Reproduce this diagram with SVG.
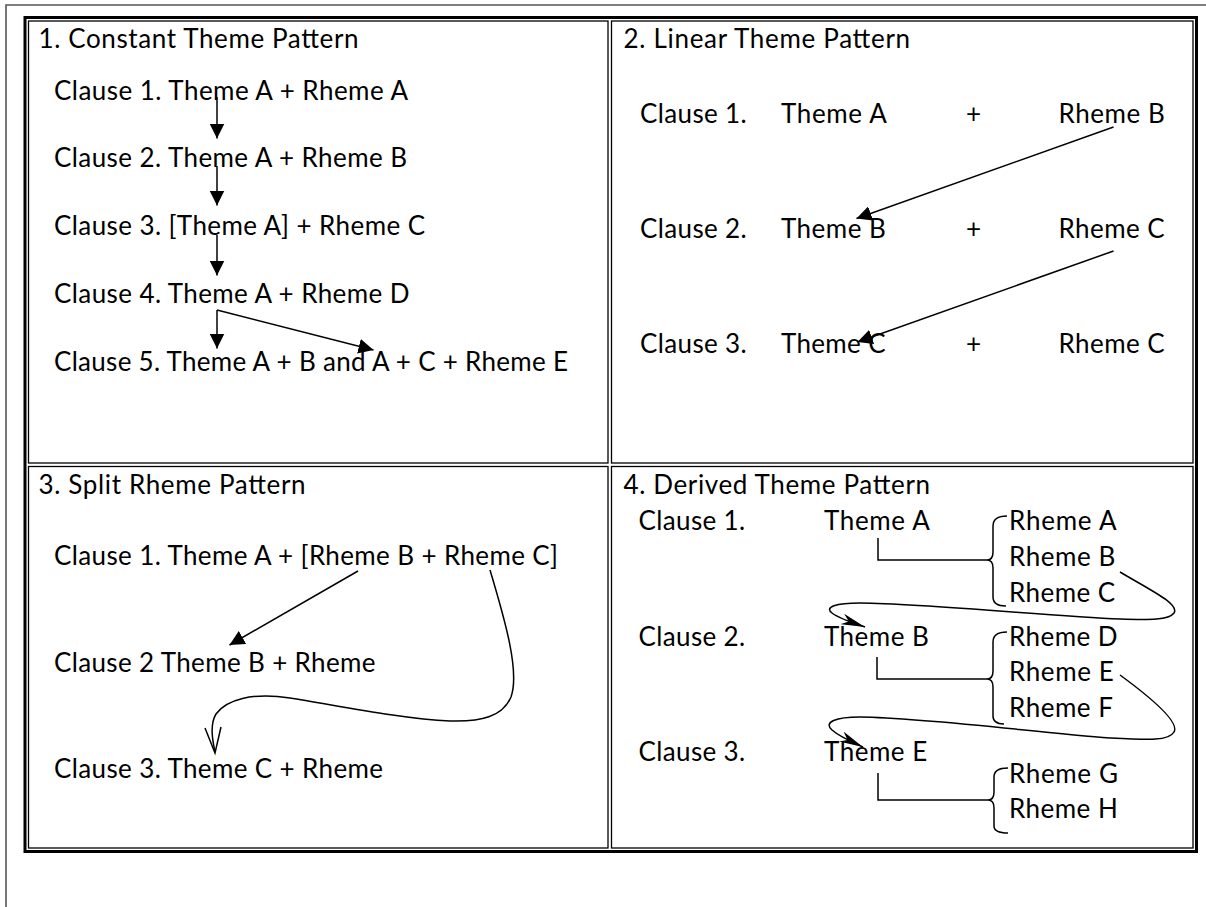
<svg xmlns="http://www.w3.org/2000/svg" width="1206" height="907" viewBox="0 0 1206 907">
<style>
text{font-family:Lato,"Liberation Sans",sans-serif;font-size:26px;fill:#000}
.page{fill:none;stroke:#555;stroke-width:1.6}
.thick{fill:none;stroke:#000;stroke-width:3}
.thin{fill:none;stroke:#000;stroke-width:1.3}
.ln{fill:none;stroke:#000;stroke-width:1.5}
</style>
<defs>
<marker id="tri" viewBox="0 0 10 10" refX="10" refY="5" markerWidth="15" markerHeight="15" markerUnits="userSpaceOnUse" orient="auto"><path d="M0,0 L10,5 L0,10 z" fill="#000"/></marker>
<marker id="barb" viewBox="0 0 24 12" refX="24" refY="6" markerWidth="24" markerHeight="12" markerUnits="userSpaceOnUse" orient="auto"><path d="M0,0 L24,6 L0,11 L7,6 z" fill="#000"/></marker>
</defs>
<rect width="1206" height="907" fill="#fff"/>
<path class="page" d="M6,907 L6,5 L1206,5"/>
<g id="table">
<rect class="thick" x="25" y="17.5" width="1171.5" height="834"/>
<rect class="thin" x="28.5" y="21" width="579.5" height="442"/>
<rect class="thin" x="611.5" y="21" width="581.5" height="442"/>
<rect class="thin" x="28.5" y="466.5" width="579.5" height="381.5"/>
<rect class="thin" x="611.5" y="466.5" width="581.5" height="381.5"/>
</g>
<g id="q1">
<g id="q1-title"><text x="38.5" y="47.7" textLength="320" lengthAdjust="spacing">1. Constant Theme Pattern</text></g>
<g id="q1-c1"><text x="54" y="100" textLength="354" lengthAdjust="spacing">Clause 1. Theme A + Rheme A</text></g>
<g id="q1-c2"><text x="54" y="167" textLength="353" lengthAdjust="spacing">Clause 2. Theme A + Rheme B</text></g>
<g id="q1-c3"><text x="54" y="235" textLength="371" lengthAdjust="spacing">Clause 3. [Theme A] + Rheme C</text></g>
<g id="q1-c4"><text x="54" y="303" textLength="355.5" lengthAdjust="spacing">Clause 4. Theme A + Rheme D</text></g>
<g id="q1-c5"><text x="54" y="370.5" textLength="514" lengthAdjust="spacing">Clause 5. Theme A + B and A + C + Rheme E</text></g>
</g>
<g id="q2">
<g id="q2-title"><text x="623.5" y="47.7" textLength="286.6" lengthAdjust="spacing">2. Linear Theme Pattern</text></g>
<g id="q2-r1"><text x="640" y="123.3" textLength="106.7" lengthAdjust="spacing">Clause 1.</text><text x="781" y="123.3" textLength="105.8" lengthAdjust="spacing">Theme A</text><text x="966" y="123.3">+</text><text x="1058.5" y="123.3" textLength="106.4" lengthAdjust="spacing">Rheme B</text></g>
<g id="q2-r2"><text x="640" y="238.3" textLength="106.7" lengthAdjust="spacing">Clause 2.</text><text x="781" y="238.3" textLength="104.8" lengthAdjust="spacing">Theme B</text><text x="966" y="238.3">+</text><text x="1058.5" y="238.3" textLength="106.1" lengthAdjust="spacing">Rheme C</text></g>
<g id="q2-r3"><text x="640" y="353.3" textLength="106.7" lengthAdjust="spacing">Clause 3.</text><text x="781" y="353.3" textLength="104.5" lengthAdjust="spacing">Theme C</text><text x="966" y="353.3">+</text><text x="1058.5" y="353.3" textLength="106.1" lengthAdjust="spacing">Rheme C</text></g>
</g>
<g id="q3">
<g id="q3-title"><text x="38.5" y="494" textLength="267" lengthAdjust="spacing">3. Split Rheme Pattern</text></g>
<g id="q3-c1"><text x="54" y="565" textLength="504" lengthAdjust="spacing">Clause 1. Theme A + [Rheme B + Rheme C]</text></g>
<g id="q3-c2"><text x="54" y="672.3" textLength="321.5" lengthAdjust="spacing">Clause 2 Theme B + Rheme</text></g>
<g id="q3-c3"><text x="54" y="777.7" textLength="329" lengthAdjust="spacing">Clause 3. Theme C + Rheme</text></g>
</g>
<g id="q4">
<g id="q4-title"><text x="623.5" y="494" textLength="306.5" lengthAdjust="spacing">4. Derived Theme Pattern</text></g>
<g id="q4-c1"><text x="638.5" y="530" textLength="106.7" lengthAdjust="spacing">Clause 1.</text><text x="824" y="530" textLength="105.8" lengthAdjust="spacing">Theme A</text></g>
<g id="q4-r1"><text x="1009" y="530" textLength="107.5" lengthAdjust="spacing">Rheme A</text><text x="1009" y="566" textLength="106.4" lengthAdjust="spacing">Rheme B</text><text x="1009" y="601.7" textLength="106.1" lengthAdjust="spacing">Rheme C</text></g>
<g id="q4-c2"><text x="638.5" y="645.7" textLength="106.7" lengthAdjust="spacing">Clause 2.</text><text x="824" y="645.7" textLength="104.8" lengthAdjust="spacing">Theme B</text></g>
<g id="q4-r2"><text x="1009" y="645.7" textLength="108.5" lengthAdjust="spacing">Rheme D</text><text x="1009" y="681" textLength="104.8" lengthAdjust="spacing">Rheme E</text><text x="1009" y="717.3" textLength="104" lengthAdjust="spacing">Rheme F</text></g>
<g id="q4-c3"><text x="638.5" y="761" textLength="106.7" lengthAdjust="spacing">Clause 3.</text><text x="824" y="761" textLength="103.2" lengthAdjust="spacing">Theme E</text></g>
<g id="q4-r3"><text x="1009" y="782.7" textLength="109" lengthAdjust="spacing">Rheme G</text><text x="1009" y="817.7" textLength="108.8" lengthAdjust="spacing">Rheme H</text></g>
</g>
<g id="connectors">
<line class="ln" x1="217" y1="97" x2="217" y2="138.5" marker-end="url(#tri)"/>
<line class="ln" x1="217" y1="166" x2="217" y2="205.5" marker-end="url(#tri)"/>
<line class="ln" x1="217" y1="235" x2="217" y2="275.5" marker-end="url(#tri)"/>
<line class="ln" x1="217" y1="310" x2="217" y2="348.5" marker-end="url(#tri)"/>
<line class="ln" x1="217" y1="310" x2="373.5" y2="350" marker-end="url(#tri)"/>
<line class="ln" x1="1113.5" y1="127" x2="856.5" y2="218.5" marker-end="url(#tri)"/>
<line class="ln" x1="1113.5" y1="251" x2="857.5" y2="342" marker-end="url(#tri)"/>
<line class="ln" x1="358" y1="571" x2="229.5" y2="645" marker-end="url(#tri)"/>
<path class="ln" d="M490,570 C505,620 520,672 511,697 C503,716 482,722 450,721 C400,719 330,704 290,698 C252,692 226,700 216,714 C210,724 212,738 215,752"/>
<path class="ln" d="M205,728 L215,753 L221,727"/>
<path class="ln" d="M1120,572 C1150,590 1180,604 1174,613 C1169,620 1150,620 1120,619 C1050,616 930,604 860,603 C836,603 824,607 832,613 C840,619 853,623 865,627" marker-end="url(#barb)"/>
<path class="ln" d="M1120,675 C1150,697 1180,722 1174,732 C1169,741 1150,740 1110,738 C1040,733 930,718 860,717 C836,717 823,722 832,730 C840,737 852,742 863,747" marker-end="url(#barb)"/>
<path class="ln" d="M878,538 L878,560 L987,560"/>
<path class="ln" d="M877,657 L877,679 L987,679"/>
<path class="ln" d="M878,773 L878,800 L988,800"/>
<path class="ln" d="M1007,516 C998,516 993,519 993,526 L993,552 C993,557 991,560 987,560 C991,560 993,563 993,568 L993,597 C993,603 998,606 1006,606"/>
<path class="ln" d="M1007,632 C998,632 993,635 993,642 L993,671 C993,676 991,679 987,679 C991,679 993,682 993,687 L993,716 C993,722 997,724 1004,724"/>
<path class="ln" d="M1008,768 C999,768 994,771 994,777 L994,792 C994,797 992,800 988,800 C992,800 994,803 994,808 L994,826 C994,831 999,833 1008,833"/>
</g>
</svg>
